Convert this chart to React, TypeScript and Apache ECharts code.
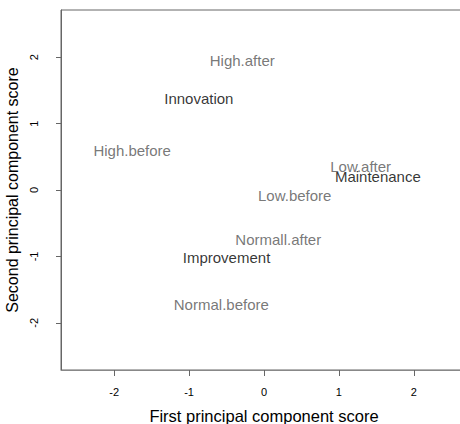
import React, { useEffect, useRef } from "react";
import * as echarts from "echarts";

const labels = [
  "High.after",
  "Innovation",
  "High.before",
  "Low.after",
  "Maintenance",
  "Low.before",
  "Normall.after",
  "Improvement",
  "Normal.before",
];
const xScores = [-0.29, -0.87, -1.76, 1.29, 1.52, 0.41, 0.19, -0.5, -0.57];
const yScores = [1.95, 1.38, 0.59, 0.36, 0.2, -0.09, -0.74, -1.02, -1.73];
const isGroup = [false, true, false, false, true, false, false, true, false];
const xTicks = [-2, -1, 0, 1, 2];
const yTicks = [-2, -1, 0, 1, 2];

export default function App() {
  const ref = useRef<HTMLDivElement>(null);
  useEffect(() => {
    if (!ref.current) return;
    const chart = echarts.init(ref.current, undefined, { renderer: "svg" });
    const font = "Liberation Sans, Arial, sans-serif";
    chart.setOption({
      animation: false,
      grid: {
        left: 61,
        top: 10,
        width: 406,
        height: 360,
        containLabel: false,
        outerBoundsMode: "none",
        show: true,
        borderColor: "#666",
        borderWidth: 1,
        backgroundColor: "transparent",
      },
      xAxis: {
        type: "value",
        min: -2.71,
        max: 2.71,
        name: "First principal component score",
        nameLocation: "middle",
        nameGap: 37,
        nameTextStyle: { fontFamily: font, fontSize: 16.5, color: "#000" },
        axisLine: { show: true, onZero: false, lineStyle: { color: "#888" } },
        axisTick: { show: true, length: 6, customValues: xTicks, lineStyle: { color: "#666" } },
        axisLabel: { customValues: xTicks, margin: 16, fontFamily: font, fontSize: 11, color: "#000" },
        splitLine: { show: false },
      },
      yAxis: {
        type: "value",
        min: -2.71,
        max: 2.71,
        name: "Second principal component score",
        nameLocation: "middle",
        nameGap: 40,
        nameTextStyle: { fontFamily: font, fontSize: 16, color: "#000" },
        axisLine: { show: true, onZero: false, lineStyle: { color: "#666" } },
        axisTick: { show: true, length: 5, customValues: yTicks, lineStyle: { color: "#666" } },
        axisLabel: { customValues: yTicks, rotate: 90, margin: 22, fontFamily: font, fontSize: 11, color: "#000" },
        splitLine: { show: false },
      },
      series: [
        {
          type: "scatter",
          symbolSize: 0,
          data: labels.map((name, i) => ({
            name,
            value: [xScores[i], yScores[i]],
            label: { color: isGroup[i] ? "#000" : "#555" },
          })),
          label: {
            show: true,
            position: "inside",
            formatter: "{b}",
            fontFamily: font,
            fontSize: 15,
          },
          emphasis: { disabled: true },
        },
      ],
    });
    return () => chart.dispose();
  }, []);
  return (
    <div
      ref={ref}
      style={{ position: "fixed", left: 0, top: 0, width: 460, height: 424, background: "#fff" }}
    />
  );
}
